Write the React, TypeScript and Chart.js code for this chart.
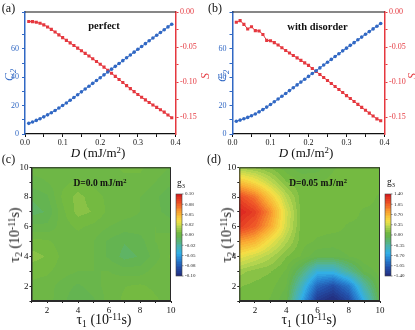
import React, { useEffect, useRef } from 'react';
import { Chart, registerables } from 'chart.js';
Chart.register(...registerables);

// ---------- data ----------
const D_VALUES = [0.01, 0.02, 0.03, 0.04, 0.05, 0.06, 0.07, 0.08, 0.09, 0.10,
  0.11, 0.12, 0.13, 0.14, 0.15, 0.16, 0.17, 0.18, 0.19, 0.20,
  0.21, 0.22, 0.23, 0.24, 0.25, 0.26, 0.27, 0.28, 0.29, 0.30,
  0.31, 0.32, 0.33, 0.34, 0.35, 0.36, 0.37, 0.38, 0.39];

const C2_PERFECT = [7.5, 8.5, 9.6, 10.8, 12.1, 13.5, 15.0, 16.6, 18.3, 20.1,
  21.9, 23.8, 25.7, 27.7, 29.7, 31.7, 33.7, 35.7, 37.7, 39.7,
  41.7, 43.7, 45.7, 47.7, 49.7, 51.7, 53.7, 55.7, 57.7, 59.7,
  61.7, 63.7, 65.7, 67.7, 69.6, 71.6, 73.5, 75.5, 77.4];

const S_PERFECT = [-0.0135, -0.0138, -0.0146, -0.0161, -0.0183, -0.0213, -0.0248, -0.0286, -0.0326, -0.0366,
  -0.0404, -0.0441, -0.0478, -0.0515, -0.0552, -0.0590, -0.0628, -0.0666, -0.0705, -0.0745,
  -0.0787, -0.0830, -0.0874, -0.0918, -0.0962, -0.1006, -0.1050, -0.1093, -0.1135, -0.1176,
  -0.1215, -0.1253, -0.1290, -0.1326, -0.1361, -0.1395, -0.1428, -0.1470, -0.1508];

const C2_DISORDER = [9.0, 9.8, 10.7, 11.7, 12.85, 14.15, 15.6, 17.2, 18.95, 20.8,
  22.7, 24.65, 26.6, 28.6, 30.6, 32.6, 34.6, 36.6, 38.6, 40.6,
  42.6, 44.6, 46.6, 48.6, 50.6, 52.6, 54.6, 56.6, 58.6, 60.5,
  62.5, 64.4, 66.4, 68.3, 70.3, 72.2, 74.1, 76.0, 77.9];

const S_DISORDER = [-0.0147, -0.0123, -0.0176, -0.0243, -0.0210, -0.0266, -0.0270, -0.0320, -0.0404, -0.0410,
  -0.0437, -0.0470, -0.0510, -0.0550, -0.0585, -0.0620, -0.0655, -0.0690, -0.0725, -0.0762,
  -0.0805, -0.0848, -0.0891, -0.0934, -0.0977, -0.1020, -0.1063, -0.1106, -0.1149, -0.1192,
  -0.1234, -0.1276, -0.1318, -0.1360, -0.1401, -0.1442, -0.1483, -0.1524, -0.1552];

const TAU1 = [1, 2, 3, 4, 5, 6, 7, 8, 9, 10];
const TAU2 = [1, 2, 3, 4, 5, 6, 7, 8, 9, 10];

// rows: tau2 = 1..10, columns: tau1 = 1..10
const G3_PERFECT = [
  [0.003, 0.002, -0.003, -0.008, -0.005, 0.002, 0.005, 0.008, 0.005, 0.002],
  [0.003, 0.002, -0.002, -0.005, -0.002, 0.002, 0.004, 0.005, 0.003, 0.002],
  [0.006, 0.005, 0.002, 0.000, 0.000, 0.000, -0.002, -0.002, 0.002, 0.003],
  [0.010, 0.008, 0.003, 0.000, 0.000, -0.005, -0.010, -0.008, -0.002, 0.005],
  [0.006, 0.005, 0.002, 0.002, 0.000, -0.005, -0.008, -0.006, 0.000, 0.003],
  [-0.003, -0.003, 0.002, 0.005, 0.003, 0.000, -0.002, -0.002, 0.000, -0.002],
  [-0.010, -0.008, 0.003, 0.010, 0.008, 0.003, 0.002, 0.000, -0.003, -0.006],
  [-0.008, -0.005, 0.005, 0.010, 0.006, 0.003, 0.002, 0.000, -0.003, -0.008],
  [-0.002, 0.000, 0.003, 0.005, 0.003, 0.002, 0.003, 0.003, 0.000, -0.003],
  [0.002, 0.002, 0.002, 0.002, 0.002, 0.003, 0.005, 0.005, 0.002, 0.000],
];

const G3_DISORDER = [
  [0.10, 0.10, 0.05, -0.05, -0.65, -1.30, -1.45, -1.20, -0.60, -0.05],
  [0.12, 0.10, 0.08, 0.00, -0.45, -1.00, -1.15, -0.90, -0.35, 0.00],
  [0.20, 0.15, 0.12, 0.05, -0.20, -0.55, -0.55, -0.30, -0.05, 0.03],
  [0.45, 0.35, 0.25, 0.12, 0.05, -0.05, -0.05, 0.00, 0.05, 0.05],
  [0.80, 0.70, 0.45, 0.25, 0.08, 0.05, 0.03, 0.05, 0.05, 0.05],
  [1.20, 1.05, 0.75, 0.36, 0.08, 0.08, 0.08, 0.05, 0.05, 0.05],
  [1.35, 1.20, 0.85, 0.38, 0.08, 0.08, 0.08, 0.08, 0.05, 0.05],
  [1.15, 0.95, 0.60, 0.28, 0.08, 0.08, 0.08, 0.08, 0.08, 0.05],
  [0.65, 0.50, 0.30, 0.12, 0.06, 0.06, 0.08, 0.08, 0.08, 0.08],
  [0.20, 0.15, 0.10, 0.02, -0.05, -0.03, 0.05, 0.08, 0.08, 0.08],
];

const CB_RANGE_PERFECT = [-0.1, 0.1];
const CB_RANGE_DISORDER = [-1.4, 1.4];
const CB_LABELS_PERFECT = ['0.10', '0.08', '0.05', '0.02', '0.00', '-0.02', '-0.05', '-0.08', '-0.10'];
const CB_LABELS_DISORDER = ['1.40', '1.05', '0.70', '0.35', '0.00', '-0.35', '-0.70', '-1.05', '-1.40'];

// ---------- styles ----------
const SERIF = '"Liberation Serif", "Times New Roman", "DejaVu Serif", serif';
const BLUE = '#3168c4';
const RED = '#e5383f';

const CMAP: number[][] = [
  [0.00, 35, 45, 125],
  [0.10, 35, 80, 170],
  [0.20, 40, 130, 210],
  [0.28, 50, 175, 230],
  [0.38, 80, 180, 160],
  [0.47, 100, 180, 80],
  [0.53, 115, 185, 65],
  [0.60, 185, 215, 80],
  [0.67, 245, 225, 70],
  [0.77, 250, 170, 50],
  [0.88, 240, 90, 40],
  [1.00, 215, 25, 30],
];
const LEVELS = 48;

function cmap(t: number): number[] {
  t = Math.max(0, Math.min(1, t));
  t = Math.min(1, (Math.floor(t * LEVELS) + 0.5) / LEVELS);
  for (let i = 0; i < CMAP.length - 1; i++) {
    const a = CMAP[i], b = CMAP[i + 1];
    if (t <= b[0]) {
      const f = (t - a[0]) / (b[0] - a[0]);
      return [a[1] + (b[1] - a[1]) * f, a[2] + (b[2] - a[2]) * f, a[3] + (b[3] - a[3]) * f];
    }
  }
  const l = CMAP[CMAP.length - 1];
  return [l[1], l[2], l[3]];
}

function findIdx(arr: number[], v: number) {
  let i = 0;
  while (i < arr.length - 2 && v > arr[i + 1]) i++;
  const f = Math.max(0, Math.min(1, (v - arr[i]) / (arr[i + 1] - arr[i])));
  return [i, f];
}

function bilinear(grid: number[][], u: number, v: number) {
  const [i, fx] = findIdx(TAU1, u);
  const [j, fy] = findIdx(TAU2, v);
  const a = grid[j][i], b = grid[j][i + 1], c = grid[j + 1][i], d = grid[j + 1][i + 1];
  return (a * (1 - fx) + b * fx) * (1 - fy) + (c * (1 - fx) + d * fx) * fy;
}

const heatmapPlugin = {
  id: 'heatmap',
  beforeDatasetsDraw(chart: any, _args: any, opts: any) {
    const { ctx, chartArea: a, scales } = chart;
    const x = scales.x, y = scales.y;
    const left = Math.round(a.left), top = Math.round(a.top);
    const w = Math.round(a.right) - left, h = Math.round(a.bottom) - top;
    const img = ctx.createImageData(w, h);
    const [vmin, vmax] = opts.range;
    for (let py = 0; py < h; py++) {
      const v = y.getValueForPixel(top + py + 0.5);
      for (let px = 0; px < w; px++) {
        const u = x.getValueForPixel(left + px + 0.5);
        const val = bilinear(opts.grid, u, v);
        const c = cmap((val - vmin) / (vmax - vmin));
        const k = (py * w + px) * 4;
        img.data[k] = c[0]; img.data[k + 1] = c[1]; img.data[k + 2] = c[2]; img.data[k + 3] = 255;
      }
    }
    ctx.putImageData(img, left, top);
  },
  afterDraw(chart: any, _args: any, opts: any) {
    const { ctx, chartArea: a } = chart;
    ctx.save();
    ctx.strokeStyle = '#2a2a2a';
    ctx.lineWidth = 1;
    ctx.strokeRect(a.left + 0.5, a.top + 0.5, a.right - a.left - 1, a.bottom - a.top - 1);
    // colour bar
    const bx = Math.round(a.right + 5), by = Math.round(a.top + 26.3), bw = 6, bh = 82;
    for (let py = 0; py < bh; py++) {
      const c = cmap(1 - (py + 0.5) / bh);
      ctx.fillStyle = `rgb(${c[0] | 0},${c[1] | 0},${c[2] | 0})`;
      ctx.fillRect(bx, by + py, bw, 1);
    }
    ctx.strokeStyle = '#444';
    ctx.lineWidth = 0.6;
    ctx.strokeRect(bx, by, bw, bh);
    const labels: string[] = opts.labels;
    ctx.fillStyle = '#222';
    ctx.font = `5px ${SERIF}`;
    ctx.textBaseline = 'middle';
    ctx.textAlign = 'left';
    labels.forEach((l, i) => {
      const yy = by + (bh * i) / (labels.length - 1);
      ctx.beginPath();
      ctx.moveTo(bx + bw, yy);
      ctx.lineTo(bx + bw + 1.5, yy);
      ctx.stroke();
      ctx.fillText(l, bx + bw + 3, yy);
    });
    ctx.restore();
  },
};

const topFramePlugin = {
  id: 'topFrame',
  afterDraw(chart: any) {
    const { ctx, chartArea: a } = chart;
    ctx.save();
    ctx.strokeStyle = '#111';
    ctx.lineWidth = 1.2;
    ctx.beginPath();
    ctx.moveTo(a.left, a.top);
    ctx.lineTo(a.right, a.top);
    ctx.stroke();
    ctx.restore();
  },
};

const near = (v: number, step: number) => Math.abs(v / step - Math.round(v / step)) < 1e-6;

function lineConfig(c2: number[], s: number[], leftW: number, rightW: number): any {
  const tickFont = { family: SERIF, size: 8 };
  return {
    type: 'line',
    data: {
      datasets: [
        {
          label: 'C2',
          data: D_VALUES.map((d, i) => ({ x: d, y: c2[i] })),
          yAxisID: 'y',
          borderColor: BLUE,
          backgroundColor: BLUE,
          borderWidth: 1,
          pointRadius: 1.8,
          pointBorderWidth: 0,
          pointStyle: 'circle',
        },
        {
          label: 'S',
          data: D_VALUES.map((d, i) => ({ x: d, y: s[i] })),
          yAxisID: 'y2',
          borderColor: RED,
          backgroundColor: RED,
          borderWidth: 1,
          pointRadius: 2.2,
          pointBorderWidth: 0,
          pointStyle: 'rect',
        },
      ],
    },
    options: {
      responsive: false,
      animation: false,
      devicePixelRatio: 1,
      layout: { padding: { top: 12, left: 0, right: 0, bottom: 0 } },
      plugins: { legend: { display: false }, tooltip: { enabled: false } },
      scales: {
        x: {
          type: 'linear', min: 0, max: 0.4,
          ticks: {
            stepSize: 0.05, autoSkip: false, maxRotation: 0, padding: 1, color: '#111', font: tickFont,
            callback: (v: number) => (near(v, 0.1) ? v.toFixed(1) : ''),
          },
          grid: { drawOnChartArea: false, tickLength: 3, tickColor: '#111' },
          border: { color: '#111', width: 1.2 },
          afterFit: (sc: any) => { sc.height = 31; },
        },
        y: {
          type: 'linear', position: 'left', min: 0, max: 86,
          ticks: {
            stepSize: 10, autoSkip: false, padding: 3, color: BLUE, font: tickFont,
            callback: (v: number) => (near(v, 20) ? String(v) : ''),
          },
          grid: { drawOnChartArea: false, tickLength: 3, tickColor: BLUE },
          border: { color: BLUE, width: 1.5 },
          afterFit: (sc: any) => { sc.width = leftW; },
        },
        y2: {
          type: 'linear', position: 'right', min: -0.174, max: 0,
          ticks: {
            stepSize: 0.025, includeBounds: false, autoSkip: false, padding: 1.5, color: RED, font: tickFont,
            callback: (v: number) => (near(v, 0.05) ? v.toFixed(2) : ''),
          },
          grid: { drawOnChartArea: false, tickLength: 3, tickColor: RED },
          border: { color: RED, width: 1.5 },
          afterFit: (sc: any) => { sc.width = rightW; },
        },
      },
    },
    plugins: [topFramePlugin],
  };
}

function heatConfig(grid: number[][], range: number[], labels: string[], leftW: number, rightPad: number): any {
  const tickFont = { family: SERIF, size: 9 };
  const pts: { x: number; y: number }[] = [];
  TAU2.forEach((t2) => TAU1.forEach((t1) => pts.push({ x: t1, y: t2 })));
  return {
    type: 'scatter',
    data: { datasets: [{ data: pts, pointRadius: 0, showLine: false }] },
    options: {
      responsive: false,
      animation: false,
      devicePixelRatio: 1,
      layout: { padding: { top: 7.3, left: 0, right: rightPad, bottom: 0 } },
      plugins: { legend: { display: false }, tooltip: { enabled: false }, heatmap: { grid, range, labels } },
      scales: {
        x: {
          type: 'linear', min: 1, max: 10,
          ticks: {
            stepSize: 1, autoSkip: false, maxRotation: 0, padding: 2, color: '#111', font: tickFont,
            callback: (v: number) => (v % 2 === 0 ? String(v) : ''),
          },
          grid: { drawOnChartArea: false, tickLength: 2, tickColor: '#222' },
          border: { color: '#2a2a2a', width: 1 },
          afterFit: (sc: any) => { sc.height = 29; },
        },
        y: {
          type: 'linear', min: 1, max: 10,
          ticks: {
            stepSize: 1, autoSkip: false, padding: 1, color: '#111', font: tickFont,
            callback: (v: number) => (v % 2 === 0 ? String(v) : ''),
          },
          grid: { drawOnChartArea: false, tickLength: 2, tickColor: '#222' },
          border: { color: '#2a2a2a', width: 1 },
          afterFit: (sc: any) => { sc.width = leftW; },
        },
      },
    },
    plugins: [heatmapPlugin],
  };
}

// ---------- text helpers ----------
const Sub = ({ children }: any) => (
  <span style={{ fontSize: '0.68em', position: 'relative', top: '0.32em' }}>{children}</span>
);
const Sup = ({ children }: any) => (
  <span style={{ fontSize: '0.68em', position: 'relative', top: '-0.45em' }}>{children}</span>
);

function Label({ x, y, rot = 0, size = 12, style = {}, children }: any) {
  return (
    <div
      style={{
        position: 'absolute', left: x, top: y, fontSize: size, lineHeight: 1,
        whiteSpace: 'nowrap', transform: `translate(-50%,-50%) rotate(${rot}deg)`, ...style,
      }}
    >
      {children}
    </div>
  );
}

export default function App() {
  const aRef = useRef<HTMLCanvasElement>(null);
  const bRef = useRef<HTMLCanvasElement>(null);
  const cRef = useRef<HTMLCanvasElement>(null);
  const dRef = useRef<HTMLCanvasElement>(null);

  useEffect(() => {
    const charts = [
      new Chart(aRef.current as HTMLCanvasElement, lineConfig(C2_PERFECT, S_PERFECT, 25, 31.5)),
      new Chart(bRef.current as HTMLCanvasElement, lineConfig(C2_DISORDER, S_DISORDER, 25.5, 30.5)),
      new Chart(cRef.current as HTMLCanvasElement, heatConfig(G3_PERFECT, CB_RANGE_PERFECT, CB_LABELS_PERFECT, 31.5, 36)),
      new Chart(dRef.current as HTMLCanvasElement, heatConfig(G3_DISORDER, CB_RANGE_DISORDER, CB_LABELS_DISORDER, 32.3, 35)),
    ];
    return () => charts.forEach((c) => c.destroy());
  }, []);

  const bold = { fontWeight: 'bold' };
  return (
    <div
      style={{
        position: 'absolute', left: 0, top: 0, width: 415, height: 330, background: '#fff',
        fontFamily: SERIF, color: '#111', overflow: 'hidden',
      }}
    >
      <canvas ref={aRef} width={207} height={165} style={{ position: 'absolute', left: 0, top: 0 }} />
      <canvas ref={bRef} width={208} height={165} style={{ position: 'absolute', left: 207, top: 0 }} />
      <canvas ref={cRef} width={207} height={170} style={{ position: 'absolute', left: 0, top: 160 }} />
      <canvas ref={dRef} width={208} height={170} style={{ position: 'absolute', left: 207, top: 160 }} />

      <Label x={8.5} y={7.5} size={12}>(a)</Label>
      <Label x={215} y={7.5} size={12}>(b)</Label>
      <Label x={8.5} y={159} size={12}>(c)</Label>
      <Label x={214} y={159} size={12}>(d)</Label>

      <Label x={104} y={26} size={10.5} style={bold}>perfect</Label>
      <Label x={317.5} y={26.5} size={10.5} style={bold}>with disorder</Label>

      <Label x={8.5} y={75} rot={-90} size={12} style={{ color: BLUE, fontStyle: 'italic' }}>
        C<Sub>2</Sub>
      </Label>
      <Label x={221.5} y={76} rot={-90} size={12} style={{ color: BLUE, fontStyle: 'italic' }}>
        C<Sub>2</Sub>
      </Label>
      <Label x={204.5} y={76} rot={-90} size={12} style={{ color: RED, fontStyle: 'italic' }}>S</Label>
      <Label x={411.5} y={76} rot={-90} size={12} style={{ color: RED, fontStyle: 'italic' }}>S</Label>

      <Label x={98} y={152} size={13}>
        <i>D</i> (mJ/m<Sup>2</Sup>)
      </Label>
      <Label x={306} y={152} size={13}>
        <i>D</i> (mJ/m<Sup>2</Sup>)
      </Label>

      <Label x={100} y={184} size={9.5} style={bold}>
        D=0.0 mJ/m<Sup>2</Sup>
      </Label>
      <Label x={318} y={184} size={9.5} style={bold}>
        D=0.05 mJ/m<Sup>2</Sup>
      </Label>

      <Label x={181} y={183.5} size={9.5}>
        g<Sub>3</Sub>
      </Label>
      <Label x={391} y={182.5} size={9.5}>
        g<Sub>3</Sub>
      </Label>

      <Label x={104} y={320} size={14}>
        τ<Sub>1</Sub> (10<Sup>-11</Sup>s)
      </Label>
      <Label x={309} y={320} size={14}>
        τ<Sub>1</Sub> (10<Sup>-11</Sup>s)
      </Label>
      <Label x={15} y={235} rot={-90} size={14}>
        τ<Sub>2</Sub> (10<Sup>-11</Sup>s)
      </Label>
      <Label x={226.5} y={235} rot={-90} size={14}>
        τ<Sub>2</Sub> (10<Sup>-11</Sup>s)
      </Label>
    </div>
  );
}
